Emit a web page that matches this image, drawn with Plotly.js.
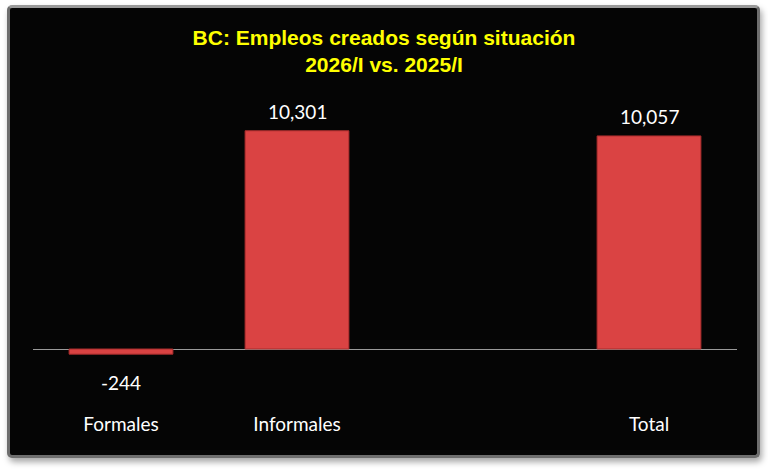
<!DOCTYPE html>
<html>
<head>
<meta charset="utf-8">
<script src="https://cdn.plot.ly/plotly-3.0.1.min.js"></script>
<style>
  body { margin: 0; background: #fff; }
  #marco {
    position: absolute; left: 7px; top: 5px; width: 747px; height: 447px;
    background: #050505; border: 3px solid #6e6e6e; border-top-color: #9a9a9a;
    border-radius: 5px; box-shadow: 2px 4px 6px rgba(0,0,0,0.35);
  }
  #grafica { position: absolute; left: 0; top: 0; width: 768px; height: 471px; }
</style>
</head>
<body>
<div id="marco"></div>
<div id="grafica"></div>
<script>
// Empleos creados, BC 2026/I vs 2025/I
const categorias = ['Formales', 'Informales', 'Total'];
const empleos = [-244, 10301, 10057];
// hueco vacío entre Informales y Total
const ordenEje = ['Formales', 'Informales', '\u00a0', 'Total'];

const etiquetas = empleos.map(v => v.toLocaleString('en-US'));

const anotaciones = categorias.map((c, i) => ({
  x: c,
  y: empleos[i],
  text: etiquetas[i],
  showarrow: false,
  yanchor: empleos[i] >= 0 ? 'bottom' : 'top',
  yshift: empleos[i] >= 0 ? 6 : -15,
  font: { family: 'Lato, sans-serif', size: 19, color: '#ffffff' }
}));

Plotly.newPlot('grafica', [{
  x: categorias,
  y: empleos,
  type: 'bar',
  marker: {
    color: '#da4343',
    line: { color: '#a82c2c', width: 1 }
  },
  hoverinfo: 'none'
}], {
  width: 768,
  height: 471,
  paper_bgcolor: 'rgba(0,0,0,0)',
  plot_bgcolor: 'rgba(0,0,0,0)',
  margin: { t: 100, r: 31, l: 33, b: 71 },
  bargap: 0.41,
  showlegend: false,
  title: {
    text: '<b>BC: Empleos creados según situación<br>2026/I vs. 2025/I</b>',
    font: { family: '"Liberation Sans", Arial, sans-serif', size: 21, color: '#ffff00' },
    x: 0.5,
    xanchor: 'center',
    yref: 'container',
    y: 1 - 45 / 471,
    yanchor: 'middle'
  },
  xaxis: {
    type: 'category',
    categoryorder: 'array',
    categoryarray: ordenEje,
    range: [-0.5, 3.5],
    showline: false,
    showgrid: false,
    ticks: '',
    ticklabelstandoff: 11,
    tickfont: { family: 'Lato, sans-serif', size: 19, color: '#ffffff' }
  },
  yaxis: {
    range: [-2407, 11753],
    showticklabels: false,
    showgrid: false,
    zeroline: true,
    zerolinecolor: '#9a9a9a',
    zerolinewidth: 1,
    ticks: ''
  },
  annotations: anotaciones
}, { displayModeBar: false, staticPlot: true });
</script>
</body>
</html>
